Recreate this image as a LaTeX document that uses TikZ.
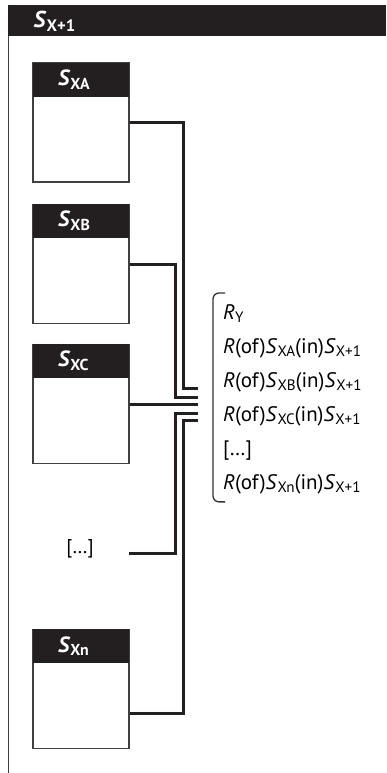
\documentclass[tikz,border=0pt]{standalone}
\usepackage{fontspec}
\setmainfont{PT Sans}
\usetikzlibrary{calc}
\definecolor{tinta}{RGB}{35,31,32}
\newcommand{\subi}[1]{\raisebox{-0.35ex}{\scalebox{0.72}{#1}}}
\begin{document}
\begin{tikzpicture}[
    x=1pt, y=-1pt,
    caja/.style={draw=black!75, line width=1.2pt, fill=white, minimum width=96pt, minimum height=119pt, inner sep=0pt},
    cabecera/.style={fill=tinta, text=white, minimum height=34pt, inner xsep=25pt, inner ysep=0pt, text width=46pt, align=left, font=\fontsize{22}{22}\selectfont\bfseries},
    cable/.style={line width=3pt, draw=tinta},
    llave/.style={line width=1.3pt, draw=black!80, rounded corners=6pt},
    lista/.style={anchor=north west, inner sep=0pt, align=left, font=\fontsize{21}{34}\selectfont}
]
    \useasboundingbox (0,0) rectangle (386,773);

    % --- MARCO EXTERIOR S_{X+1} ---
    \fill[tinta] (8,5) rectangle (386,36);
    \draw[line width=1.3pt, draw=black!75] (8.6,36) -- (8.6,773);
    \node[anchor=west, text=white, font=\fontsize{23}{23}\selectfont\bfseries] (tit) at (30,21) {\textit{S}\subi{X+1}};

    % --- SUBSISTEMAS ---
    \node[caja] (SA) at (81,122.5) {};
    \node[cabecera, anchor=north] (HA) at (SA.north) {\textit{S}\subi{XA}};
    \node[caja] (SB) at (81,264) {};
    \node[cabecera, anchor=north] (HB) at (SB.north) {\textit{S}\subi{XB}};
    \node[caja] (SC) at (81,404) {};
    \node[cabecera, anchor=north] (HC) at (SC.north) {\textit{S}\subi{XC}};
    \node[font=\fontsize{20}{20}\selectfont] (dots) at (80,549) {{[…]}};
    \node[caja] (SN) at (81,689) {};
    \node[cabecera, anchor=north] (HN) at (SN.north) {\textit{S}\subi{Xn}};

    % --- PUNTOS DE LLEGADA ---
    \coordinate (jA) at (198,388);
    \coordinate (jB) at (198,397);
    \coordinate (jC) at (198,404);
    \coordinate (jD) at (198,413);
    \coordinate (jN) at (198,420);
    \coordinate (pD) at (129,553);

    % --- CABLES ---
    \draw[cable] (SA.east) -- ++(54,0) |- (jA);
    \draw[cable] (SB.east) -- ++(46,0) |- (jB);
    \draw[cable] (SC.east) -- (jC);
    \draw[cable] (pD) -- ++(46,0) |- (jD);
    \draw[cable] ($(SN.east)+(0,24)$) -- ++(54,0) |- (jN);

    % --- RELACIONES ---
    \node[lista] (rel) at (223,304) {%
        \textit{R}\subi{Y}\\
        \textit{R}(of)\textit{S}\subi{XA}(in)\textit{S}\subi{X+1}\\
        \textit{R}(of)\textit{S}\subi{XB}(in)\textit{S}\subi{X+1}\\
        \textit{R}(of)\textit{S}\subi{XC}(in)\textit{S}\subi{X+1}\\
        {[…]}\\
        \textit{R}(of)\textit{S}\subi{Xn}(in)\textit{S}\subi{X+1}};
    \draw[llave] ($(rel.north west)+(2,-11)$) -- ($(rel.north west)+(-10,-11)$) |- ($(rel.south west)+(2,8)$);
\end{tikzpicture}
\end{document}
